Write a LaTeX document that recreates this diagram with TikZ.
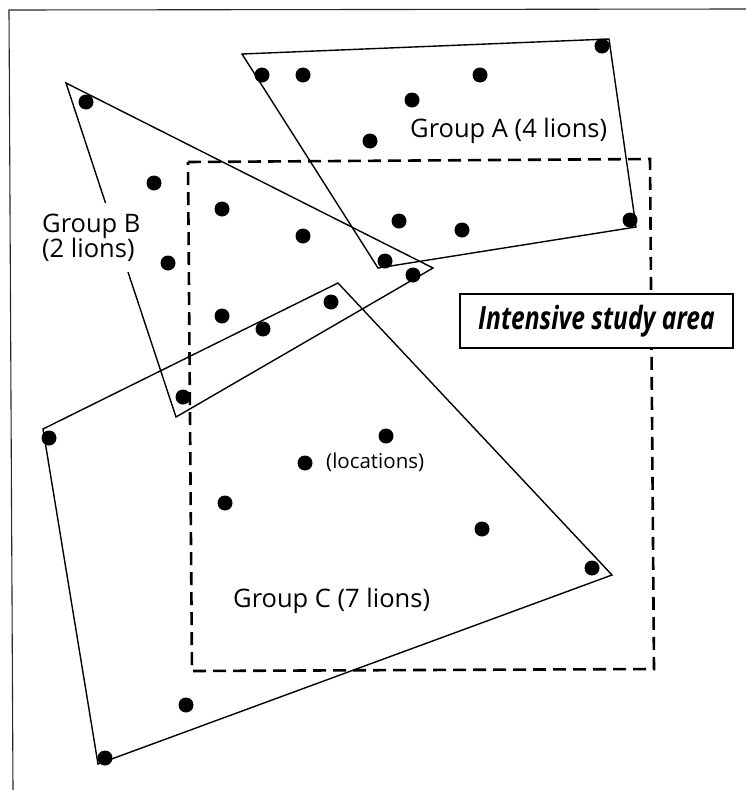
\documentclass[tikz,border=0pt]{standalone}
\usepackage{fontspec}
\setmainfont{Open Sans}
\usetikzlibrary{calc}
\begin{document}
\begin{tikzpicture}[x=1pt,y=-1pt,
  frameline/.style={line width=1.1pt, black!85},
  poly/.style={line width=1.4pt, line join=miter},
  studyline/.style={line width=2.6pt, dash pattern=on 13pt off 7pt},
  lion/.style={circle, fill=black, inner sep=0pt, minimum size=15pt},
  grouplabel/.style={inner sep=0pt, anchor=base west, font=\fontsize{25.5}{27}\selectfont},
  studybox/.style={draw, fill=white, line width=1.3pt, minimum width=273pt, minimum height=54pt, inner sep=0pt}]
\useasboundingbox (0,0) rectangle (746,790);

% frame
\coordinate (F1) at (13,790);
\coordinate (F2) at (9,10);
\coordinate (F3) at (746,9);
\draw[frameline] (F1) -- (F2) -- (F3);

% intensive study area (dashed)
\coordinate (S1) at (188,162);
\coordinate (S2) at (650,159);
\coordinate (S3) at (654,669);
\coordinate (S4) at (192,671);
\draw[studyline] (S1) -- (S2) -- (S3) -- (S4) -- cycle;

% Group A range
\coordinate (A1) at (242,54);
\coordinate (A2) at (609,39);
\coordinate (A3) at (636,227);
\coordinate (A4) at (378,268);
\draw[poly] (A1) -- (A2) -- (A3) -- (A4) -- cycle;

% Group B range (gap for the label)
\coordinate (B1) at (66,83);
\coordinate (B2) at (433,268);
\coordinate (B3) at (176,417);
\coordinate (Bg1) at (128,272);
\coordinate (Bg2) at (105.5,203);
\draw[poly] (Bg2) -- (B1) -- (B2) -- (B3) -- (Bg1);

% Group C range
\coordinate (C1) at (338,283);
\coordinate (C2) at (612,575);
\coordinate (C3) at (98,764);
\coordinate (C4) at (43,429);
\draw[poly] (C1) -- (C2) -- (C3) -- (C4) -- cycle;

% locations
\foreach \px/\py [count=\i] in {
  262/75, 303/75, 480/75, 412/100, 370/141, 602/46, 399/221, 462/230, 630/220, 385/261,
  86/102, 154/183, 168/263, 222/209, 303/236, 413/275, 183/397,
  331/302, 263/329, 222/316, 49/438, 305/463, 386/436, 225/503, 482/529, 592/568, 186/705, 105/758}
  \node[lion] (d\i) at (\px,\py) {};

% labels
\node[grouplabel] (gA) at (410,137) {Group A (4 lions)};
\node[grouplabel] (gB1) at (42,232) {Group B};
\node[grouplabel] (gB2) at (42,257) {(2 lions)};
\node[grouplabel] (gC) at (233,607) {Group C (7 lions)};
\node[inner sep=0pt, anchor=base west, font=\fontsize{20.5}{22}\selectfont] (loc) at (326,468) {(locations)};

\node[studybox] (isa) at (596.5,321) {\scalebox{0.77}[1]{\fontsize{32}{34}\selectfont\bfseries\itshape Intensive study area}};
\end{tikzpicture}
\end{document}
